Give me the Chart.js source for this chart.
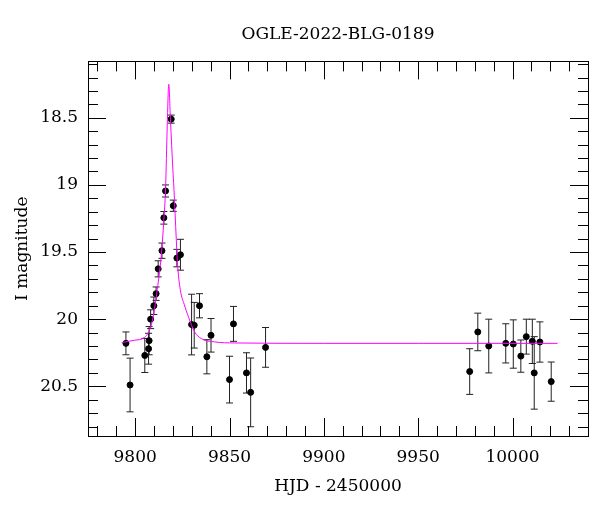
<!DOCTYPE html>
<html lang="en">
<head>
    <meta charset="UTF-8">
    <title>OGLE-2022-BLG-0189</title>
    <script src="https://cdn.jsdelivr.net/npm/chart.js"></script>
    <style>
        html, body { margin: 0; padding: 0; background: #fff; }
        #wrap { width: 600px; height: 512px; }
    </style>
</head>
<body>
    <div id="wrap"><canvas id="lightcurve"></canvas></div>

    <script>
        // photometry
        const obsHJD = [9795.1, 9797.3, 9805.1, 9807.1, 9807.4, 9808.2, 9809.9, 9811.1, 9812.2, 9814.2,
                        9815.2, 9816.1, 9819.1, 9820.2, 9822.1, 9824.0, 9829.9, 9831.3, 9834.1, 9838.0,
                        9840.2, 9850.0, 9852.1, 9859.0, 9861.2, 9869.1, 9977.3, 9981.6, 9987.4, 9996.4,
                        10000.4, 10004.4, 10007.3, 10010.5, 10011.5, 10014.5, 10020.5];
        const obsMag = [20.18, 20.49, 20.27, 20.22, 20.16, 20.00, 19.90, 19.81, 19.625, 19.49,
                        19.245, 19.045, 18.51, 19.155, 19.545, 19.52, 20.04, 20.045, 19.90, 20.28,
                        20.12, 20.45, 20.035, 20.40, 20.545, 20.21, 20.39, 20.095, 20.20, 20.18,
                        20.185, 20.275, 20.13, 20.165, 20.40, 20.17, 20.465];
        const obsErr = [0.085, 0.20, 0.127, 0.115, 0.105, 0.07, 0.065, 0.05, 0.06, 0.057,
                        0.047, 0.045, 0.03, 0.042, 0.065, 0.115, 0.226, 0.17, 0.09, 0.127,
                        0.125, 0.174, 0.13, 0.15, 0.256, 0.148, 0.17, 0.14, 0.2, 0.146,
                        0.18, 0.12, 0.13, 0.165, 0.27, 0.15, 0.146];

        // model curve, sampled off the magenta line
        const modelHJD = [9792.9, 9799.6, 9805.0, 9808.5, 9810.3, 9811.7, 9812.9, 9814.1, 9815.2, 9816.1,
                          9817.0, 9817.8, 9818.7, 9820.0, 9820.5, 9821.8, 9822.4, 9823.9, 9826.0, 9828.3,
                          9831.5, 9835.0, 9842.1, 9852.5, 9900, 9950, 10023.9];
        const modelMag = [20.174, 20.157, 20.135, 20.045, 19.92, 19.78, 19.65, 19.485, 19.26, 19.03,
                          18.56, 18.25, 18.515, 18.89, 19.015, 19.41, 19.58, 19.78, 19.89, 19.985,
                          20.095, 20.144, 20.169, 20.177, 20.18, 20.18, 20.18];

        const xTicks = [9800, 9850, 9900, 9950, 10000];
        const yTicks = [18.5, 19, 19.5, 20, 20.5];

        const serif = 'DejaVu Serif';

        // error bars under the points
        const errorBars = {
            id: 'errorBars',
            beforeDatasetsDraw(chart) {
                const ctx = chart.ctx;
                const y = chart.scales.y;
                const meta = chart.getDatasetMeta(1);
                ctx.save();
                ctx.strokeStyle = '#222';
                ctx.lineWidth = 1;
                meta.data.forEach((pt, i) => {
                    const top = y.getPixelForValue(obsMag[i] - obsErr[i]);
                    const bot = y.getPixelForValue(obsMag[i] + obsErr[i]);
                    ctx.beginPath();
                    ctx.moveTo(pt.x, top); ctx.lineTo(pt.x, bot);
                    ctx.moveTo(pt.x - 3.5, top); ctx.lineTo(pt.x + 3.5, top);
                    ctx.moveTo(pt.x - 3.5, bot); ctx.lineTo(pt.x + 3.5, bot);
                    ctx.stroke();
                });
                ctx.restore();
            }
        };

        // frame with inward ticks on all four sides
        const frameTicks = {
            id: 'frameTicks',
            afterDraw(chart) {
                const ctx = chart.ctx;
                const a = chart.chartArea;
                const x = chart.scales.x, y = chart.scales.y;
                ctx.save();
                ctx.strokeStyle = '#000';
                ctx.lineWidth = 1;
                ctx.beginPath();
                for (let v = 9780; v <= x.max; v += 10) {
                    const px = Math.round(x.getPixelForValue(v)) + 0.5;
                    const len = v % 50 === 0 ? 18 : 10;
                    ctx.moveTo(px, a.bottom); ctx.lineTo(px, a.bottom - len);
                    ctx.moveTo(px, a.top); ctx.lineTo(px, a.top + len);
                }
                for (let k = Math.ceil(y.min * 10); k <= y.max * 10; k++) {
                    const py = Math.round(y.getPixelForValue(k / 10)) + 0.5;
                    const len = k % 5 === 0 ? 18 : 10;
                    ctx.moveTo(a.left, py); ctx.lineTo(a.left + len, py);
                    ctx.moveTo(a.right, py); ctx.lineTo(a.right - len, py);
                }
                ctx.stroke();
                ctx.strokeRect(Math.round(a.left) + 0.5, Math.round(a.top) + 0.5,
                               Math.round(a.right - a.left), Math.round(a.bottom - a.top));
                ctx.restore();
            }
        };

        const ctx = document.getElementById('lightcurve').getContext('2d');
        new Chart(ctx, {
            type: 'scatter',
            data: {
                datasets: [{
                    type: 'line',
                    label: 'model',
                    data: modelHJD.map((t, i) => ({ x: t, y: modelMag[i] })),
                    borderColor: '#ff00ff',
                    borderWidth: 1,
                    pointRadius: 0,
                    fill: false,
                    cubicInterpolationMode: 'monotone',
                    order: 0
                }, {
                    label: 'OGLE',
                    data: obsHJD.map((t, i) => ({ x: t, y: obsMag[i] })),
                    backgroundColor: '#000',
                    borderColor: '#000',
                    pointRadius: 3,
                    order: 1
                }]
            },
            options: {
                responsive: true,
                maintainAspectRatio: false,
                animation: false,
                layout: { padding: { left: 8, right: 12, top: 0, bottom: 11 } },
                plugins: {
                    legend: { display: false },
                    tooltip: { enabled: false },
                    title: {
                        display: true,
                        text: 'OGLE-2022-BLG-0189',
                        fullSize: false,
                        color: '#000',
                        font: { family: serif, size: 17, weight: 'normal' },
                        padding: { top: 24, bottom: 17 }
                    }
                },
                scales: {
                    x: {
                        type: 'linear',
                        min: 9775,
                        max: 10040,
                        afterBuildTicks: s => { s.ticks = xTicks.map(v => ({ value: v })); },
                        afterFit: s => { s.height = 65; },
                        grid: { drawOnChartArea: false, drawTicks: false },
                        border: { display: false },
                        ticks: { color: '#000', padding: 11, maxRotation: 0, callback: v => String(v),
                                 font: { family: serif, size: 17 } },
                        title: { display: true, text: 'HJD - 2450000', color: '#000', font: { family: serif, size: 17 } }
                    },
                    y: {
                        reverse: true,
                        min: 18.08,
                        max: 20.87,
                        afterBuildTicks: s => { s.ticks = yTicks.map(v => ({ value: v })); },
                        afterFit: s => { s.width = 80; },
                        grid: { drawOnChartArea: false, drawTicks: false },
                        border: { display: false },
                        ticks: { color: '#000', padding: 10, callback: v => String(v),
                                 font: { family: serif, size: 17 } },
                        title: { display: true, text: 'I magnitude', color: '#000', font: { family: serif, size: 17 } }
                    }
                }
            },
            plugins: [errorBars, frameTicks]
        });
    </script>
</body>
</html>
